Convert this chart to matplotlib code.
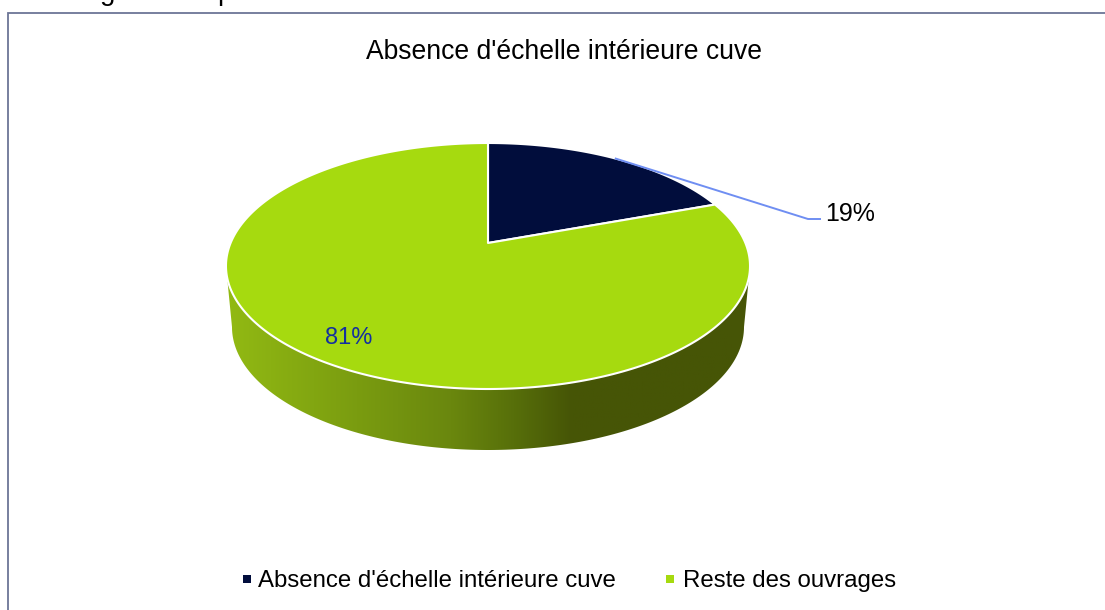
import numpy as np
import matplotlib
matplotlib.use("Agg")
import matplotlib.pyplot as plt
from matplotlib.colors import LinearSegmentedColormap
from matplotlib.patches import Polygon

plt.rcParams['font.family'] = ['Liberation Sans', 'DejaVu Sans']

title = "Absence d'échelle intérieure cuve"
labels = ["Absence d'échelle intérieure cuve", "Reste des ouvrages"]
shares = [19.4, 80.6]
colors = ["#010d3c", "#a6da0f"]


# pie seen in perspective: the circle goes through a projection
cx, cy = 488, 243
a, b, k = 257.4, 118.7, 0.187


def project(theta, r=1.0):
    d = 1 + k * r * np.cos(theta)
    return cx + a * r * np.sin(theta) / d, cy - b * r * np.cos(theta) / d


fig = plt.figure(figsize=(11.05, 6.1), dpi=100)
ax = fig.add_axes([0, 0, 1, 1])
ax.set_xlim(0, 1105)
ax.set_ylim(610, 0)
ax.axis("off")

# outer frame, the lower right is cut off
ax.plot([8, 8, 1105], [610, 13, 13], color="#6c7596", lw=1.3, solid_joinstyle="miter")

# side of the pie
t = np.linspace(0, np.pi, 200)
side_x = np.concatenate([[226], 488 - 256 * np.cos(t), [750]])
side_y = np.concatenate([[266], 327 + 123 * np.sin(t), [266]])
side = Polygon(np.column_stack([side_x, side_y]), closed=True, fc="none", ec="none")
ax.add_patch(side)
cmap = LinearSegmentedColormap.from_list("side", [
    (0.0, "#92ba13"), (0.25, "#7a9c10"), (0.43, "#6a870e"),
    (0.55, "#576f0a"), (0.66, "#465506"), (1.0, "#465506")])
grad = ax.imshow(np.linspace(0, 1, 256)[None, :], cmap=cmap, aspect="auto",
                 extent=[226, 750, 450, 260], zorder=1)
grad.set_clip_path(side)
ax.set_xlim(0, 1105)
ax.set_ylim(610, 0)

# top face
start = 0.0
mids = []
for share, color in zip(shares, colors):
    end = start + share / sum(shares) * 2 * np.pi
    th = np.linspace(start, end, 300)
    x, y = project(th)
    ax.add_patch(Polygon(np.column_stack([np.r_[cx, x], np.r_[cy, y]]), closed=True,
                         fc=color, ec="white", lw=1.5, zorder=2, joinstyle="round"))
    mids.append((start + end) / 2)
    start = end

# labels
lx, ly = project(mids[0])
ax.plot([lx, 808, 820], [ly, 219, 219], color="#6f8ef2", lw=1.4, zorder=3)
ax.text(825, 214, f"{shares[0]:.0f}%", fontsize=18, color="#000000", va="center", ha="left")
ax.text(349, 338, f"{shares[1]:.0f}%", fontsize=17, color="#14309f", va="center", ha="center")

ax.text(564, 52, title, fontsize=19.1, color="#000000", va="center", ha="center")

# legend
ax.scatter([247, 670], [579, 579], marker="s", s=26, c=colors, linewidths=0)
ax.text(258, 581, labels[0], fontsize=17.25, va="center", ha="left")
ax.text(683, 581, labels[1], fontsize=17.25, va="center", ha="left")

# bits of the caption cut off by the top of the picture
ax.text(108, 0.5, "g", fontsize=20, va="baseline", ha="center")
ax.text(225, 0.5, "p", fontsize=20, va="baseline", ha="center")

fig.savefig("out.png", dpi=100)
